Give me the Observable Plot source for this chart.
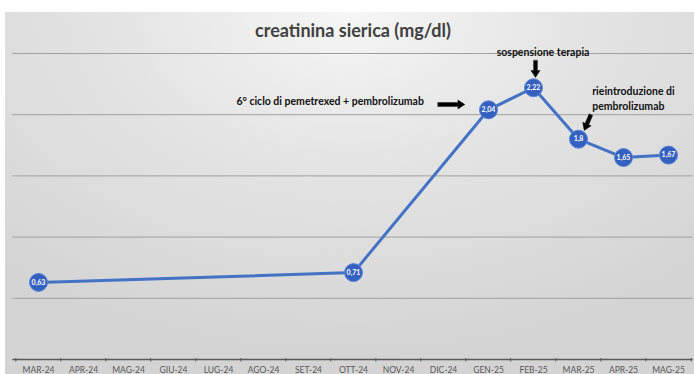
<!DOCTYPE html>
<html>
<head>
<meta charset="utf-8">
<script src="https://cdn.jsdelivr.net/npm/d3@7"></script>
<script src="https://cdn.jsdelivr.net/npm/@observablehq/plot@0.6"></script>
<style>
  html, body { margin: 0; padding: 0; background: #ffffff; }
  #chart {
    position: absolute; left: 5px; top: 12px; width: 689px; height: 362px; overflow: hidden;
    background: radial-gradient(ellipse 75% 95% at 50% 0%, #f6f6f6 0%, #e4e4e4 45%, #d4d4d4 100%);
  }
</style>
</head>
<body>
<div id="chart"></div>
<script>
// Monthly axis categories
const months = ["MAR-24", "APR-24", "MAG-24", "GIU-24", "LUG-24", "AGO-24", "SET-24", "OTT-24",
                "NOV-24", "DIC-24", "GEN-25", "FEB-25", "MAR-25", "APR-25", "MAG-25"];
// Months with a serum creatinine measurement, and the values (mg/dl)
const measuredMonths = ["MAR-24", "OTT-24", "GEN-25", "FEB-25", "MAR-25", "APR-25", "MAG-25"];
const creatinine = [0.63, 0.71, 2.04, 2.22, 1.8, 1.65, 1.67];
// Horizontal gridline values
const gridValues = [0.5, 1, 1.5, 2, 2.5];
const title = "creatinina sierica (mg/dl)";

const data = measuredMonths.map((month, i) => ({month, value: creatinine[i]}));
const at = (m) => data.filter((d) => d.month === m);
const fmt = (v) => String(v).replace(".", ",");

const width = 689, height = 362;
const marginLeft = 7.3, marginRight = 1.3, marginTop = 41, marginBottom = 15;
const step = (width - marginLeft - marginRight) / months.length;
const plotH = height - marginTop - marginBottom;

// Solid block arrow pointing "up" before rotation
const fatArrow = {
  draw(context, l) {
    const w = 1.9, h = 4.6, hl = 7;
    context.moveTo(-w, 0);
    context.lineTo(-w, -(l - hl));
    context.lineTo(-h, -(l - hl));
    context.lineTo(0, -l);
    context.lineTo(h, -(l - hl));
    context.lineTo(w, -(l - hl));
    context.lineTo(w, 0);
    context.closePath();
  }
};
const arrowStyle = {x: "month", y: "value", anchor: "end", shape: fatArrow,
                    fill: "#000", stroke: "#000", strokeWidth: 0.4};
const noteStyle = {x: "month", y: "value", fontSize: 10.5, fontWeight: "bold", fill: "#111"};
const tickStyle = {insetTop: plotH - 1, insetBottom: -2.5, stroke: "#5a5a5a", strokeWidth: 1};

const chart = Plot.plot({
  width, height, marginLeft, marginRight, marginTop, marginBottom,
  style: {background: "transparent", fontFamily: "Lato, 'Open Sans', sans-serif", fontSize: "8.5px", color: "#5a5a5a"},
  x: {type: "point", domain: months, padding: 0.5, tickSize: 0, tickPadding: 7, label: null},
  y: {domain: [0, 2.5], axis: null},
  marks: [
    Plot.ruleY(gridValues, {stroke: "#a0a0a0", strokeWidth: 1}),
    Plot.ruleY([0], {stroke: "#5a5a5a", strokeWidth: 1.5}),
    Plot.ruleX(months, {...tickStyle, dx: -step / 2}),
    Plot.ruleX(months.slice(-1), {...tickStyle, dx: step / 2}),
    Plot.line(data, {x: "month", y: "value", stroke: "#4472c4", strokeWidth: 3}),
    Plot.dot(data, {x: "month", y: "value", r: 9, fill: "#3460c0", stroke: "#5b84d8", strokeWidth: 1}),
    Plot.text(data, {x: "month", y: "value", text: (d) => fmt(d.value), fill: "#ffffff",
                     fontSize: 7, fontWeight: "bold"}),
    Plot.text([title], {frameAnchor: "top", lineAnchor: "middle", dy: -22, text: (d) => d,
                        fontSize: 18, fontWeight: "bold", fill: "#404040"}),
    // Annotations tied to the measurements they describe
    Plot.text(at("GEN-25"), {...noteStyle, text: () => "6° ciclo di pemetrexed + pembrolizumab",
                             textAnchor: "end", dx: -64.6, dy: -7.8}),
    Plot.vector(at("GEN-25"), {...arrowStyle, length: 27, rotate: 90, dx: -23.6, dy: -5.3}),
    Plot.text(at("FEB-25"), {...noteStyle, text: () => "sospensione terapia", dx: 9.5, dy: -35.6}),
    Plot.vector(at("FEB-25"), {...arrowStyle, length: 17, rotate: 180, dx: 2, dy: -10.3}),
    Plot.text(at("MAR-25"), {...noteStyle, text: () => "rieintroduzione di\npembrolizumab",
                             textAnchor: "start", lineAnchor: "top", lineHeight: 1.43, dx: 13.7, dy: -55}),
    Plot.vector(at("MAR-25"), {...arrowStyle, length: 17, rotate: 203, dx: 5.7, dy: -8.7})
  ]
});
document.getElementById("chart").appendChild(chart);
</script>
</body>
</html>
